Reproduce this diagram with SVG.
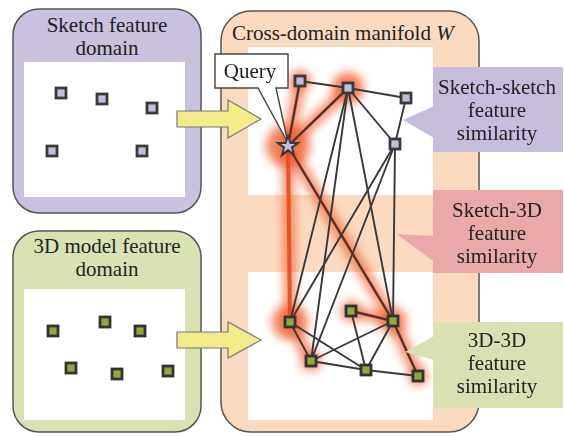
<svg xmlns="http://www.w3.org/2000/svg" width="564" height="436" viewBox="0 0 564 436">
<defs>
<style>
.t{font-family:"Liberation Serif","Times New Roman",serif;font-size:21px;fill:#222;text-anchor:middle}
.box{stroke:#555;stroke-width:1.5}
.sn{fill:#c4bcdc;stroke:#3a3a3a;stroke-width:2.8}
.gn{fill:#8eaa3a;stroke:#333;stroke-width:2.8}
.e{stroke:#383838;stroke-width:1.9;fill:none;stroke-linecap:round}
.glow{stroke:#f06030;stroke-width:12;fill:none;stroke-linecap:round;opacity:0.7}
.core{stroke:#e84a20;stroke-width:3;fill:none;stroke-linecap:round;opacity:0.9}
.arrow{fill:#f3ec8a;stroke:#777;stroke-width:1.2}
</style>
<filter id="blur" x="-50%" y="-50%" width="200%" height="200%"><feGaussianBlur stdDeviation="5"/></filter>
</defs>

<g id="sketch-domain">
<rect x="13" y="9" width="188" height="204" rx="26" fill="#c9c1dd" class="box"/>
<rect x="24" y="62" width="161" height="135" fill="#fff"/>
<text class="t" x="107" y="32">Sketch feature</text>
<text class="t" x="107" y="55">domain</text>
<rect class="sn" x="56" y="88" width="10" height="10"/>
<rect class="sn" x="97" y="94" width="10" height="10"/>
<rect class="sn" x="147" y="103" width="10" height="10"/>
<rect class="sn" x="47" y="146" width="10" height="10"/>
<rect class="sn" x="137" y="146" width="10" height="10"/>
</g>

<g id="model-domain">
<rect x="13" y="231" width="188" height="201" rx="26" fill="#d8e2b2" class="box"/>
<rect x="24" y="289" width="161" height="131" fill="#fff"/>
<text class="t" x="107" y="253">3D model feature</text>
<text class="t" x="107" y="276">domain</text>
<rect class="gn" x="48" y="326" width="10" height="10"/>
<rect class="gn" x="100" y="317" width="10" height="10"/>
<rect class="gn" x="135" y="326" width="10" height="10"/>
<rect class="gn" x="66" y="363" width="10" height="10"/>
<rect class="gn" x="112" y="369" width="10" height="10"/>
<rect class="gn" x="163" y="366" width="10" height="10"/>
</g>

<g id="manifold">
<rect x="221" y="11" width="258" height="421" rx="30" fill="#fbdabf" class="box"/>
<rect x="248" y="47" width="185" height="148" fill="#fff"/>
<rect x="248" y="272" width="185" height="148" fill="#fff"/>
<text class="t" x="232" y="40" style="text-anchor:start">Cross-domain manifold <tspan font-style="italic">W</tspan></text>
</g>

<g id="arrows">
<path class="arrow" d="M177,111 H228 V100 L261,119 L228,138 V127 H177 Z"/>
<path class="arrow" d="M177,332 H228 V322 L261,340 L228,358 V348 H177 Z"/>
</g>

<g id="highlights">
<g filter="url(#blur)">
<circle cx="288" cy="146" r="22" fill="#f05a28" opacity="0.75"/>
<circle cx="348" cy="88" r="16" fill="#f05a28" opacity="0.75"/>
<circle cx="300" cy="81" r="11" fill="#f05a28" opacity="0.65"/>
<circle cx="290" cy="322" r="18" fill="#f05a28" opacity="0.75"/>
<circle cx="393" cy="321" r="14" fill="#f05a28" opacity="0.65"/>
<circle cx="351" cy="311" r="11" fill="#f05a28" opacity="0.55"/>
<circle cx="311" cy="361" r="11" fill="#f05a28" opacity="0.55"/>
<circle cx="418" cy="376" r="10" fill="#f05a28" opacity="0.55"/>
<line class="glow" x1="288" y1="146" x2="300" y2="81"/>
<line class="glow" x1="288" y1="146" x2="348" y2="88"/>
<line class="glow" x1="288" y1="146" x2="290" y2="322"/>
<line class="glow" x1="288" y1="146" x2="393" y2="321"/>
<line class="glow" x1="351" y1="311" x2="393" y2="321"/>
<line class="glow" x1="393" y1="321" x2="418" y2="376"/>
<line class="glow" x1="290" y1="322" x2="311" y2="361"/>
</g>
<line class="core" x1="288" y1="146" x2="300" y2="81"/>
<line class="core" x1="288" y1="146" x2="348" y2="88"/>
<line class="core" x1="288" y1="146" x2="290" y2="322" style="stroke-width:4"/>
<line class="core" x1="288" y1="146" x2="393" y2="321"/>
<line class="core" x1="351" y1="311" x2="393" y2="321"/>
<line class="core" x1="393" y1="321" x2="418" y2="376"/>
</g>

<g id="connectors">
<line class="e" x1="288" y1="146" x2="300" y2="81"/>
<line class="e" x1="288" y1="146" x2="348" y2="88"/>
<line class="e" x1="300" y1="81" x2="348" y2="88"/>
<line class="e" x1="348" y1="88" x2="406" y2="98"/>
<line class="e" x1="406" y1="98" x2="395" y2="144"/>
<line class="e" x1="348" y1="88" x2="395" y2="144"/>
<line class="e" x1="288" y1="146" x2="393" y2="321"/>
<line class="e" x1="348" y1="88" x2="290" y2="322"/>
<line class="e" x1="348" y1="88" x2="311" y2="361"/>
<line class="e" x1="348" y1="88" x2="393" y2="321"/>
<line class="e" x1="395" y1="144" x2="290" y2="322"/>
<line class="e" x1="395" y1="144" x2="311" y2="361"/>
<line class="e" x1="395" y1="144" x2="393" y2="321"/>
<line class="e" x1="290" y1="322" x2="311" y2="361"/>
<line class="e" x1="290" y1="322" x2="366" y2="370"/>
<line class="e" x1="311" y1="361" x2="393" y2="321"/>
<line class="e" x1="311" y1="361" x2="366" y2="370"/>
<line class="e" x1="351" y1="311" x2="366" y2="370"/>
<line class="e" x1="351" y1="311" x2="393" y2="321"/>
<line class="e" x1="393" y1="321" x2="366" y2="370"/>
<line class="e" x1="366" y1="370" x2="418" y2="376"/>
<line class="e" x1="393" y1="321" x2="418" y2="376"/>
</g>

<g id="manifold-nodes">
<rect class="sn" x="295" y="76" width="10" height="10"/>
<rect class="sn" x="343" y="83" width="10" height="10"/>
<rect class="sn" x="401" y="93" width="10" height="10"/>
<rect class="sn" x="390" y="139" width="10" height="10"/>
<rect class="gn" x="285" y="317" width="10" height="10"/>
<rect class="gn" x="346" y="306" width="10" height="10"/>
<rect class="gn" x="388" y="316" width="10" height="10"/>
<rect class="gn" x="306" y="356" width="10" height="10"/>
<rect class="gn" x="361" y="365" width="10" height="10"/>
<rect class="gn" x="413" y="371" width="10" height="10"/>
</g>

<g id="query">
<path d="M215,54 H288 V88 H276 L288,143 L258,88 H215 Z" fill="#fff" stroke="#444" stroke-width="1.4"/>
<text class="t" x="250" y="78">Query</text>
<polygon points="288,133 291,142 301,142 293,148 296,158 288,152 280,158 283,148 275,142 285,142" fill="#3a3a3a"/>
<polygon points="288,139 289.8,144 295,144 290.8,147 292.3,152 288,149 283.7,152 285.2,147 281,144 286.2,144" fill="#c4bcdc"/>
</g>

<g id="callout-ss">
<polygon points="403,120 434,106 434,138" fill="#c5bddb"/>
<rect x="433" y="67" width="130" height="85" fill="#c5bddb"/>
<text class="t" x="497" y="94">Sketch-sketch</text>
<text class="t" x="497" y="117">feature</text>
<text class="t" x="497" y="140">similarity</text>
</g>

<g id="callout-s3d">
<polygon points="397,234 434,236 434,262" fill="#e9a9a9"/>
<rect x="433" y="190" width="130" height="83" fill="#e9a9a9"/>
<text class="t" x="497" y="217">Sketch-3D</text>
<text class="t" x="497" y="240">feature</text>
<text class="t" x="497" y="263">similarity</text>
</g>

<g id="callout-3d3d">
<polygon points="405,352 434,336 434,360" fill="#d7e1b2"/>
<rect x="433" y="322" width="130" height="86" fill="#d7e1b2"/>
<text class="t" x="497" y="347">3D-3D</text>
<text class="t" x="497" y="370">feature</text>
<text class="t" x="497" y="393">similarity</text>
</g>
</svg>
